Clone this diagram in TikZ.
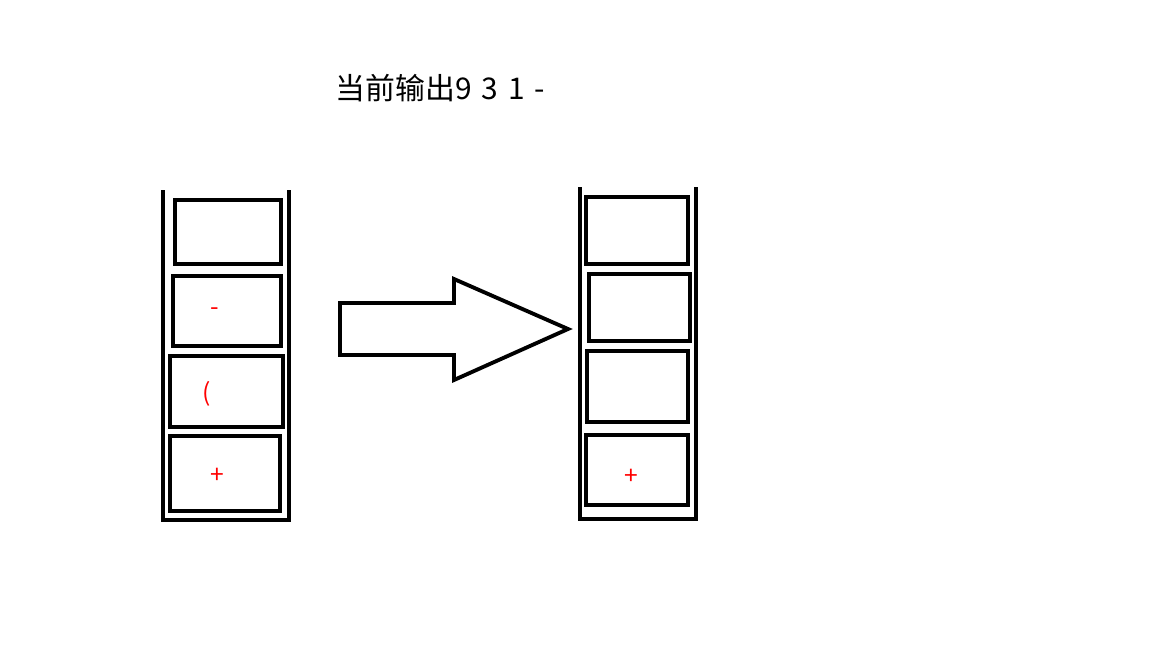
\documentclass[tikz,border=0pt]{standalone}
\usepackage{fontspec}
\setmainfont{Noto Sans CJK SC}
\begin{document}
\begin{tikzpicture}[x=0.01cm,y=-0.01cm,line width=1.1pt,
    cell/.style={draw},
    sym/.style={text=red,font=\fontsize{7}{8}\selectfont}]
    \useasboundingbox (0,0) rectangle (1152,648);

    \node[anchor=west,font=\fontsize{8.5}{10}\selectfont] (title) at (322,88) {当前输出9\,\,3\,\,1\,\,-};

    % left stack
    \draw (163,190) -- (163,520) -- (289,520) -- (289,190);
    \draw[cell] (175,200) rectangle (281,264);
    \draw[cell] (173,276) rectangle (281,346);
    \draw[cell] (170,356) rectangle (283,427);
    \draw[cell] (170,436) rectangle (280,511);
    \node[sym] (lminus) at (215,312) {-};
    \node[sym] (lparen) at (207,394) {(};
    \node[sym] (lplus) at (217,476) {+};

    % arrow
    \draw (340,303) -- (454,303) -- (454,279) -- (568,329) -- (454,380) -- (454,355) -- (340,355) -- cycle;

    % right stack
    \draw (580,187) -- (580,519) -- (696,519) -- (696,187);
    \draw[cell] (586,197) rectangle (688,264);
    \draw[cell] (589,274) rectangle (690,341);
    \draw[cell] (587,351) rectangle (688,422);
    \draw[cell] (586,435) rectangle (688,505);
    \node[sym] (rplus) at (631,477) {+};
\end{tikzpicture}
\end{document}
